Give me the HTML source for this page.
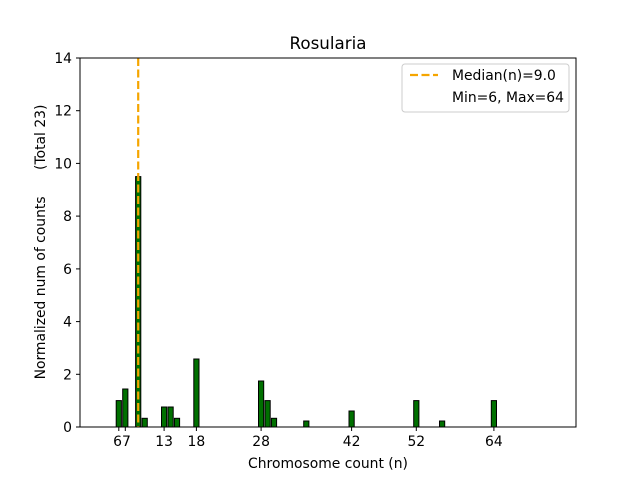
<!DOCTYPE html>
<html><head><style>body{margin:0;background:#fff}svg{display:block;font-family:"DejaVu Sans","Liberation Sans",sans-serif}</style></head><body>
<svg width="640" height="480" viewBox="0 0 640 480" xmlns="http://www.w3.org/2000/svg">
<rect width="640" height="480" fill="#fff"/>
<g fill="#007000" stroke="#000" stroke-width="1">
<rect x="116.2" y="400.6" width="5.2" height="26.4"/>
<rect x="122.7" y="389.0" width="5.2" height="38.0"/>
<rect x="135.6" y="176.6" width="5.2" height="250.4"/>
<rect x="142.1" y="418.3" width="5.2" height="8.7"/>
<rect x="161.5" y="407.0" width="5.2" height="20.0"/>
<rect x="168.0" y="407.0" width="5.2" height="20.0"/>
<rect x="174.4" y="418.3" width="5.2" height="8.7"/>
<rect x="193.8" y="359.0" width="5.2" height="68.0"/>
<rect x="258.5" y="381.0" width="5.2" height="46.0"/>
<rect x="265.0" y="400.6" width="5.2" height="26.4"/>
<rect x="271.4" y="418.3" width="5.2" height="8.7"/>
<rect x="303.7" y="421.0" width="5.2" height="6.0"/>
<rect x="349.0" y="411.0" width="5.2" height="16.0"/>
<rect x="413.7" y="400.6" width="5.2" height="26.4"/>
<rect x="439.5" y="421.0" width="5.2" height="6.0"/>
<rect x="491.3" y="400.6" width="5.2" height="26.4"/>
</g>
<line x1="138.2" y1="58" x2="138.2" y2="427" stroke="#f5a500" stroke-width="2.2" stroke-dasharray="8,3.5"/>
<rect x="80" y="58" width="496" height="369" fill="none" stroke="#000" stroke-width="1"/>
<g stroke="#000" stroke-width="1">
<line x1="80" y1="427" x2="76" y2="427"/><line x1="80" y1="374.3" x2="76" y2="374.3"/><line x1="80" y1="321.6" x2="76" y2="321.6"/><line x1="80" y1="268.9" x2="76" y2="268.9"/><line x1="80" y1="216.1" x2="76" y2="216.1"/><line x1="80" y1="163.4" x2="76" y2="163.4"/><line x1="80" y1="110.7" x2="76" y2="110.7"/><line x1="80" y1="58" x2="76" y2="58"/>
<line x1="118.8" y1="427" x2="118.8" y2="431"/><line x1="125.3" y1="427" x2="125.3" y2="431"/><line x1="164.1" y1="427" x2="164.1" y2="431"/><line x1="196.4" y1="427" x2="196.4" y2="431"/><line x1="261.1" y1="427" x2="261.1" y2="431"/><line x1="351.6" y1="427" x2="351.6" y2="431"/><line x1="416.3" y1="427" x2="416.3" y2="431"/><line x1="493.9" y1="427" x2="493.9" y2="431"/>
</g>
<g font-size="13.9" text-anchor="end" fill="#000">
<text x="72" y="432">0</text><text x="72" y="379.3">2</text><text x="72" y="326.6">4</text><text x="72" y="273.9">6</text><text x="72" y="221.1">8</text><text x="72" y="168.4">10</text><text x="72" y="115.7">12</text><text x="72" y="63">14</text>
</g>
<g font-size="13.9" text-anchor="middle" fill="#000">
<text x="122" y="446">67</text><text x="164.1" y="446">13</text><text x="196.4" y="446">18</text><text x="261.1" y="446">28</text><text x="351.6" y="446">42</text><text x="416.3" y="446">52</text><text x="493.9" y="446">64</text>
<text x="328" y="468">Chromosome count (n)</text>
<text x="328" y="49" font-size="16.7">Rosularia</text>
</g>
<text transform="translate(45,242) rotate(-90)" font-size="13.9" text-anchor="middle" style="white-space:pre" xml:space="preserve">Normalized num of counts      (Total 23)</text>
<rect x="402" y="64" width="167" height="48" rx="3" fill="#fff" stroke="#ccc" stroke-width="1"/>
<line x1="410" y1="75" x2="438" y2="75" stroke="#f5a500" stroke-width="2.2" stroke-dasharray="8,3.5"/>
<text x="452" y="80" font-size="13.9">Median(n)=9.0</text>
<text x="452" y="102" font-size="13.9">Min=6, Max=64</text>
</svg>
</body></html>
